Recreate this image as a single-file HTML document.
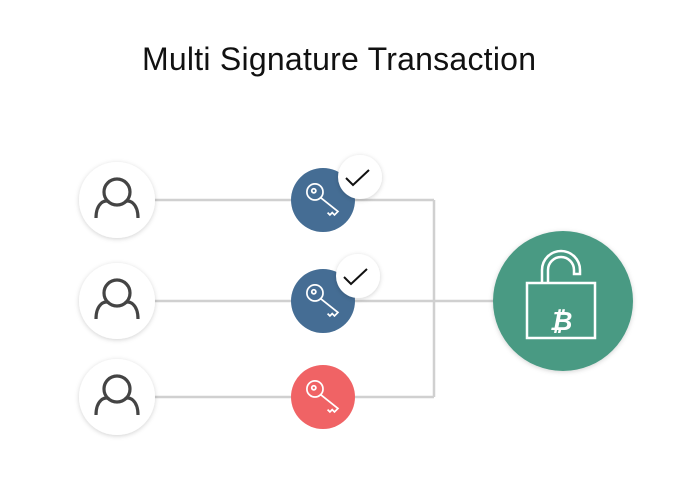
<!DOCTYPE html>
<html><head><style>
body{margin:0;background:#fff;}
svg{display:block}
</style></head><body>
<svg width="688" height="502" viewBox="0 0 688 502" xmlns="http://www.w3.org/2000/svg">
<defs>
<filter id="sh" x="-30%" y="-30%" width="160%" height="160%"><feDropShadow dx="0" dy="1" stdDeviation="2.5" flood-color="#000" flood-opacity="0.18"/></filter>
<g id="key" fill="none" stroke="#fff" stroke-width="1.5" transform="scale(1.15)">
<circle cx="-7" cy="-7" r="7"/><circle cx="-8" cy="-8" r="1.8"/>
<path d="M-2,-2 L13,10 L10,13 L8,11 L6,13 L4,11 M-2,-2"/>
</g>
<g id="user" fill="none" stroke="#444" stroke-width="3.2">
<circle cx="0" cy="-8" r="13"/>
<path d="M-21,18 C-21,3 -12,-1 -8,2 M21,18 C21,3 12,-1 8,2"/>
</g>
</defs>
<text x="339" y="70" text-anchor="middle" font-family="Liberation Sans, sans-serif" font-size="32" fill="#111" textLength="394">Multi Signature Transaction</text>
<g stroke="#d0d0d0" stroke-width="2.5" fill="none">
<line x1="150" y1="200" x2="434" y2="200"/>
<line x1="150" y1="301" x2="500" y2="301"/>
<line x1="150" y1="397" x2="434" y2="397"/>
<line x1="434" y1="200" x2="434" y2="397"/>
</g>
<g filter="url(#sh)" fill="#fff">
<circle cx="117" cy="200" r="38"/>
<circle cx="117" cy="301" r="38"/>
<circle cx="117" cy="397" r="38"/>
</g>
<use href="#user" x="117" y="200"/>
<use href="#user" x="117" y="301"/>
<use href="#user" x="117" y="397"/>
<circle cx="323" cy="200" r="32" fill="#456d94"/>
<circle cx="323" cy="301" r="32" fill="#456d94"/>
<circle cx="323" cy="397" r="32" fill="#f06365"/>
<use href="#key" x="323" y="200"/>
<use href="#key" x="323" y="301"/>
<use href="#key" x="323" y="397"/>
<g filter="url(#sh)" fill="#fff">
<circle cx="360" cy="177" r="22"/>
<circle cx="358" cy="276" r="22"/>
</g>
<path d="M346,178 L353,185 L369,170" fill="none" stroke="#111" stroke-width="2"/>
<path d="M344,277 L351,284 L367,269" fill="none" stroke="#111" stroke-width="2"/>
<circle cx="563" cy="301" r="70" fill="#4a9a83" filter="url(#sh)"/>
<g fill="none" stroke="#fff" stroke-width="2.5">
<rect x="527" y="283" width="68" height="55"/>
<path d="M542,283 V270 A19,19 0 0 1 580,270 V274 H574 V270 A13,13 0 0 0 548,270 V283"/>
</g>
<text x="561" y="330" text-anchor="middle" font-family="DejaVu Sans, sans-serif" font-weight="bold" font-style="italic" font-size="26" fill="#fff">₿</text>
</svg>
</body></html>
